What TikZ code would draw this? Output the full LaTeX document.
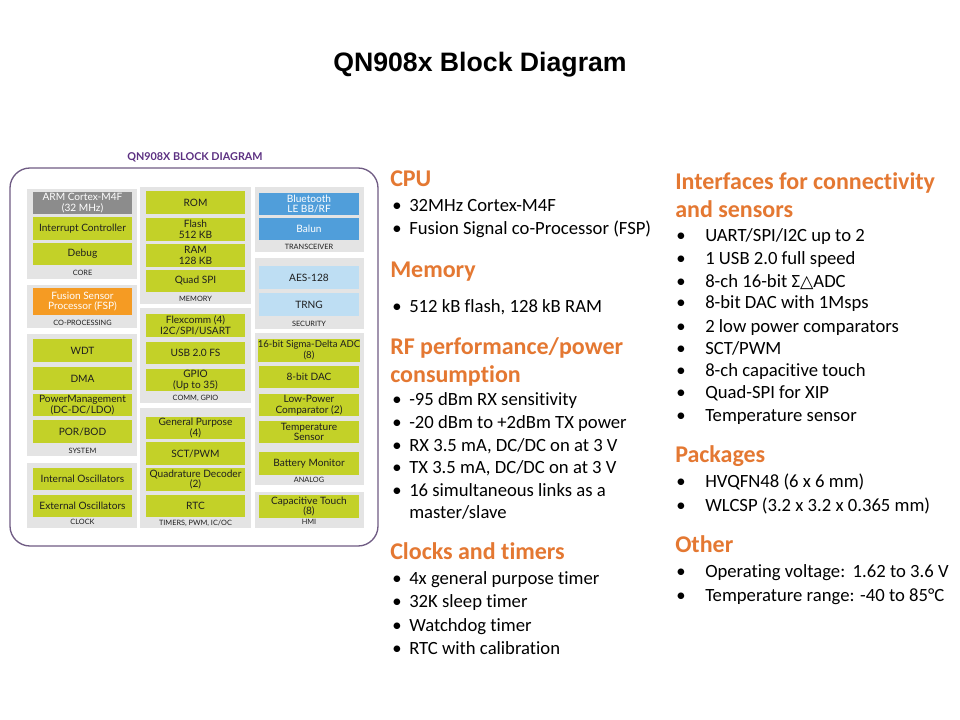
\documentclass[tikz,border=0pt]{standalone}
\usepackage{fontspec}
\setmainfont{Carlito}[Ligatures=NoCommon]
\newfontfamily\latofont{Lato}
\newfontfamily\arialfont{Liberation Sans}
\newfontfamily\dejavufont{DejaVu Sans}
\definecolor{nxpgreen}{RGB}{195,209,40}
\definecolor{panelgray}{RGB}{228,228,228}
\definecolor{armgray}{RGB}{140,140,140}
\definecolor{btblue}{RGB}{80,158,218}
\definecolor{lightblue}{RGB}{190,222,243}
\definecolor{fsporange}{RGB}{245,155,35}
\definecolor{framepurple}{RGB}{112,92,132}
\definecolor{headpurple}{RGB}{92,48,130}
\definecolor{headorange}{RGB}{228,120,50}
\definecolor{boxtext}{RGB}{30,30,30}
\usepackage{tikz}
\newcommand{\bulA}{\makebox[12.75pt][l]{\textbullet}}
\newcommand{\bulB}{\makebox[21.75pt][l]{\textbullet}}

\begin{document}
\begin{tikzpicture}[x=0.75pt, y=-0.75pt,
  grp/.style={fill=panelgray},
  blk/.style={fill=nxpgreen, minimum width=74.5pt, minimum height=17pt, inner sep=0pt,
    align=center, text=boxtext, font=\latofont\fontsize{7.6}{8}\selectfont},
  gblk/.style={blk, fill=armgray, text=white},
  bblk/.style={blk, fill=btblue, text=white},
  lbblk/.style={blk, fill=lightblue},
  oblk/.style={blk, fill=fsporange, text=white, minimum height=20pt},
  lbl/.style={text=boxtext, inner sep=0pt, font=\latofont\fontsize{5.5}{6}\selectfont},
  hd/.style={anchor=base west, inner sep=0pt, text=headorange, font=\bfseries\fontsize{18}{20}\selectfont},
  itm/.style={anchor=base west, inner sep=0pt, font=\fontsize{14}{16}\selectfont}]
  \fill[white] (0,0) rectangle (960,720);
  \useasboundingbox (0,0) rectangle (960,720);

  % Title
  \node[font=\arialfont\bfseries\fontsize{20}{24}\selectfont] (title) at (480,65) {QN908x Block Diagram};

  % Block diagram frame
  \node[text=headpurple, font=\latofont\bfseries\fontsize{8.1}{9}\selectfont] (bdtitle) at (195,157) {QN908X BLOCK DIAGRAM};
  \draw[framepurple, line width=1pt, rounded corners=15] (10,168) rectangle (378,546);

  % Column 1: core, co-processing, system, clock
  \fill[grp] (27,189) rectangle (137,279);
  \node[gblk] (arm) at (82.5,203) {ARM Cortex-M4F\\(32 MHz)};
  \node[blk] (intc) at (82.5,228.5) {Interrupt Controller};
  \node[blk] (debug) at (82.5,254) {Debug};
  \node[lbl] (corelbl) at (82.5,273) {CORE};

  \fill[grp] (27,285) rectangle (137,328);
  \node[oblk] (fsp) at (82.5,301.5) {Fusion Sensor\\Processor (FSP)};
  \node[lbl] (coproclbl) at (82.5,323) {CO-PROCESSING};

  \fill[grp] (27,334) rectangle (137,456);
  \node[blk] (wdt) at (82.5,350.5) {WDT};
  \node[blk] (dma) at (82.5,378.5) {DMA};
  \node[blk] (pmu) at (82.5,405) {PowerManagement\\(DC-DC/LDO)};
  \node[blk] (porbod) at (82.5,431.5) {POR/BOD};
  \node[lbl] (systemlbl) at (82.5,451) {SYSTEM};

  \fill[grp] (27,463) rectangle (137,528);
  \node[blk] (intosc) at (82.5,479) {Internal Oscillators};
  \node[blk] (extosc) at (82.5,506) {External Oscillators};
  \node[lbl] (clocklbl) at (82.5,522) {CLOCK};

  % Column 2: memory, comm, timers
  \fill[grp] (140,187) rectangle (251,304);
  \node[blk] (rom) at (195.5,202.5) {ROM};
  \node[blk] (flash) at (195.5,229.5) {Flash\\512 KB};
  \node[blk] (ram) at (195.5,255.5) {RAM\\128 KB};
  \node[blk] (qspi) at (195.5,281) {Quad SPI};
  \node[lbl] (memlbl) at (195.5,299) {MEMORY};

  \fill[grp] (140,308) rectangle (251,403);
  \node[blk] (flexcomm) at (195.5,325.5) {Flexcomm (4)\\I2C/SPI/USART};
  \node[blk] (usb) at (195.5,353) {USB 2.0 FS};
  \node[blk] (gpio) at (195.5,380) {GPIO\\(Up to 35)};
  \node[lbl] (commlbl) at (195.5,398) {COMM, GPIO};

  \fill[grp] (140,408) rectangle (251,528);
  \node[blk] (gptimer) at (195.5,428) {General Purpose\\(4)};
  \node[blk] (sctpwm) at (195.5,453.5) {SCT/PWM};
  \node[blk] (qdec) at (195.5,479.5) {Quadrature Decoder\\(2)};
  \node[blk] (rtc) at (195.5,506) {RTC};
  \node[lbl] (timerlbl) at (195.5,523) {TIMERS, PWM, IC/OC};

  % Column 3: transceiver, security, analog, hmi
  \fill[grp] (255,187) rectangle (364,252);
  \node[bblk] (bt) at (309,204) {Bluetooth\\LE BB/RF};
  \node[bblk] (balun) at (309,229) {Balun};
  \node[lbl] (trxlbl) at (309,247) {TRANSCEIVER};

  \fill[grp] (255,258) rectangle (364,329);
  \node[lbblk] (aes) at (309,277.5) {AES-128};
  \node[lbblk] (trng) at (309,304.5) {TRNG};
  \node[lbl] (seclbl) at (309,324) {SECURITY};

  \fill[grp] (255,333) rectangle (364,485);
  \node[blk, font=\latofont\fontsize{7.2}{8}\selectfont] (adc) at (309,350.5) {16-bit Sigma-Delta ADC\\(8)};
  \node[blk] (dac) at (309,377) {8-bit DAC};
  \node[blk] (lpcomp) at (309,405) {Low-Power\\Comparator (2)};
  \node[blk] (tsens) at (309,432) {Temperature\\Sensor};
  \node[blk] (batmon) at (309,463.5) {Battery Monitor};
  \node[lbl] (analoglbl) at (309,480) {ANALOG};

  \fill[grp] (255,492) rectangle (364,528);
  \node[blk] (captouch) at (309,506.5) {Capacitive Touch\\(8)};
  \node[lbl] (hmilbl) at (309,522) {HMI};

  % Feature list, left column
  \node[hd] (cpuhd) at (390,187) {CPU};
  \node[itm] (cpu1) at (392,212) {\bulA 32MHz Cortex-M4F};
  \node[itm] (cpu2) at (392,235) {\bulA Fusion Signal co-Processor (FSP)};
  \node[hd] (memhd) at (390,277) {Memory};
  \node[itm] (mem1) at (392,312) {\bulA 512 kB flash, 128 kB RAM};
  \node[hd] (rfhd) at (390,354) {RF performance/power};
  \node[hd] (rfhd2) at (390,382) {consumption};
  \node[itm] (rf1) at (392,405) {\bulA -95 dBm RX sensitivity};
  \node[itm] (rf2) at (392,428) {\bulA -20 dBm to +2dBm TX power};
  \node[itm] (rf3) at (392,451) {\bulA RX 3.5 mA, DC/DC on at 3 V};
  \node[itm] (rf4) at (392,473) {\bulA TX 3.5 mA, DC/DC on at 3 V};
  \node[itm] (rf5) at (392,496) {\bulA 16 simultaneous links as a};
  \node[itm] (rf5b) at (409,518) {master/slave};
  \node[hd] (clkhd) at (390,559) {Clocks and timers};
  \node[itm] (clk1) at (392,584) {\bulA 4x general purpose timer};
  \node[itm] (clk2) at (392,607) {\bulA 32K sleep timer};
  \node[itm] (clk3) at (392,631) {\bulA Watchdog timer};
  \node[itm] (clk4) at (392,654) {\bulA RTC with calibration};

  % Feature list, right column
  \node[hd] (ifhd) at (675,190) {Interfaces for connectivity};
  \node[hd] (ifhd2) at (675,218) {and sensors};
  \node[itm] (if1) at (676,242) {\bulB UART/SPI/I2C up to 2};
  \node[itm] (if2) at (676,265) {\bulB 1 USB 2.0 full speed};
  \node[itm] (if3) at (676,287) {\bulB 8-ch 16-bit Σ{\dejavufont\fontsize{13}{14}\selectfont △}ADC};
  \node[itm] (if4) at (676,309) {\bulB 8-bit DAC with 1Msps};
  \node[itm] (if5) at (676,332) {\bulB 2 low power comparators};
  \node[itm] (if6) at (676,354) {\bulB SCT/PWM};
  \node[itm] (if7) at (676,376) {\bulB 8-ch capacitive touch};
  \node[itm] (if8) at (676,398) {\bulB Quad-SPI for XIP};
  \node[itm] (if9) at (676,421) {\bulB Temperature sensor};
  \node[hd] (pkghd) at (675,462) {Packages};
  \node[itm] (pkg1) at (676,487) {\bulB HVQFN48 (6 x 6 mm)};
  \node[itm] (pkg2) at (676,511) {\bulB WLCSP (3.2 x 3.2 x 0.365 mm)};
  \node[hd] (otherhd) at (675,552) {Other};
  \node[itm] (other1) at (676,577) {\bulB Operating voltage:\hspace{0.4em}1.62 to 3.6 V};
  \node[itm] (other2) at (676,601) {\bulB Temperature range: -40 to 85°C};
\end{tikzpicture}
\end{document}
